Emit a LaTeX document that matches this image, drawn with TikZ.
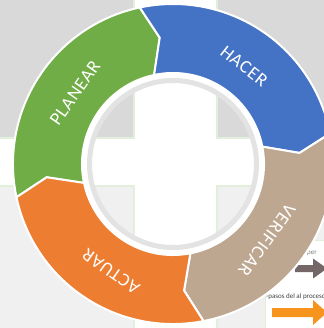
\documentclass[tikz,border=0pt]{standalone}
\usepackage{fontspec}
\setmainfont{Carlito}
\newfontfamily\segfont[LetterSpace=4]{Carlito}
\usetikzlibrary{calc}
\definecolor{segG}{HTML}{70AD47}
\definecolor{segB}{HTML}{4472C4}
\definecolor{segT}{HTML}{BDA791}
\definecolor{segO}{HTML}{ED7D31}
\definecolor{bgTop}{HTML}{D9D9D9}
\definecolor{bgBot}{HTML}{F0F0F0}
\definecolor{bgLine}{HTML}{E2EFDA}
\definecolor{ringGrey}{HTML}{E3E3E3}
\definecolor{arrDark}{HTML}{756767}
\definecolor{arrOrange}{HTML}{F7941D}
\newcommand\ringseg[3]{%
  \path[segstyle, fill=#1]
    ($(c)+(#2:160)$) arc[start angle=#2, end angle=#3, radius=160]
    -- ($(c)+({#3-6}:127)$) -- ($(c)+(#3:91)$)
    arc[start angle=#3, end angle=#2, radius=91]
    -- ($(c)+({#2-6}:127)$) -- cycle;}
\tikzset{
  segstyle/.style={draw=white, line width=2pt, line join=miter},
  bgtop/.style={fill=bgTop, draw=bgLine, line width=1.2pt},
  bgbot/.style={fill=bgBot, draw=bgLine, line width=1.2pt},
  seglabel/.style={text=white, font=\segfont\fontsize{18.5}{18.5}\selectfont, inner sep=0pt},
  tinytext/.style={font=\fontsize{7}{7}\selectfont, inner sep=0pt}
}
\begin{document}
\begin{tikzpicture}[x=1pt,y=1pt]
\useasboundingbox (0,-328) rectangle (323,0);
\fill[white] (0,-328) rectangle (323,0);
% background panels
\path[bgtop] (-2,2) rectangle (134,-138);
\path[bgtop] (217,2) rectangle (325,-138);
\path[bgbot] (-2,-186) rectangle (134,-330);
\path[bgbot] (217,-186) rectangle (325,-330);
\path[fill=white, draw=bgLine, line width=1pt] (265,-240) rectangle (326,-330);
% legend fragments
\node[tinytext, text=gray, anchor=west] (t1) at (307,-253) {per};
\node[tinytext, text=black!75, anchor=west] (t2) at (266,-297) {-pasos del al proceso};
\coordinate (a1) at (295,-268.5);
\coordinate (a2) at (272,-312.5);
\fill[arrDark] ($(a1)+(0,3.5)$) -- ++(18,0) -- ++(0,6.5) -- ++(14,-10) -- ++(-14,-10) -- ++(0,6.5) -- ($(a1)+(0,-3.5)$) -- cycle;
\fill[arrOrange] ($(a2)+(0,4.5)$) -- ++(41,0) -- ++(0,8) -- ++(14,-12.5) -- ++(-14,-12.5) -- ++(0,8) -- ($(a2)+(0,-4.5)$) -- cycle;
% ring
\coordinate (c) at (173,-164);
\draw[white, line width=6pt] (c) circle[radius=88.5];
\draw[ringGrey, line width=5pt] (c) circle[radius=83.5];
\ringseg{segG}{192}{102}
\ringseg{segB}{102}{11}
\ringseg{segT}{11}{-79}
\ringseg{segO}{-79}{-168}
% labels
\node[seglabel, rotate=55] (planear) at ($(c)+(144:121)$) {PLANEAR};
\node[seglabel, rotate=-38] (hacer) at ($(c)+(54:121)$) {HACER};
\node[seglabel, rotate=-126] (verificar) at ($(c)+(-39:121)$) {VERIFICAR};
\node[seglabel, rotate=145] (actuar) at ($(c)+(-120:124)$) {ACTUAR};
\end{tikzpicture}
\end{document}
